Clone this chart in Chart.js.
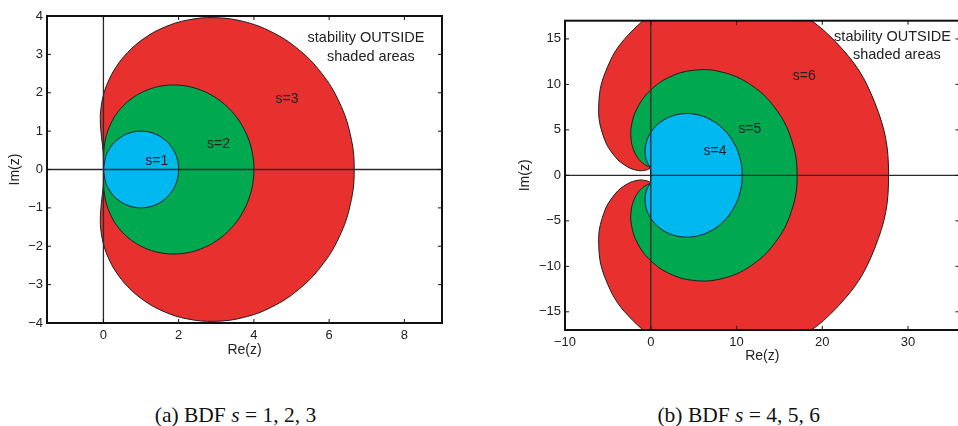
<!DOCTYPE html>
<html>
<head>
<meta charset="utf-8">
<script src="https://cdn.jsdelivr.net/npm/chart.js@4.4.1/dist/chart.umd.min.js"></script>
<style>
  html, body { margin: 0; padding: 0; background: #fff; }
  body { width: 958px; height: 426px; overflow: hidden; position: relative; }
  canvas { position: absolute; top: 0; }
  .cap { position: absolute; font-family: "Liberation Serif", "Times New Roman", serif; font-size: 21.5px; line-height: 25px; color: #111; text-align: center; width: 300px; white-space: nowrap; }
</style>
</head>
<body>
<canvas id="ca" width="479" height="380" style="left:0px"></canvas>
<canvas id="cb" width="521" height="380" style="left:479px"></canvas>
<div class="cap" style="left:85.5px; top:403px">(a) BDF <i>s</i> = 1, 2, 3</div>
<div class="cap" style="left:588.8px; top:403px">(b) BDF <i>s</i> = 4, 5, 6</div>
<script>
// ---- Data: boundary loci of the BDF stability regions ----
const s1Re = [0, 0.0603, 0.1340, 0.2929, 0.5, 0.6173, 0.7412, 0.8695, 1, 1.1305, 1.2588, 1.3827, 1.5, 1.6088, 1.7071, 1.7934, 1.8660, 1.9239, 1.9659, 1.9914, 2, 1.9914, 1.9659, 1.9239, 1.8660, 1.7934, 1.7071, 1.6088, 1.5, 1.3827, 1.2588, 1.1305, 1, 0.8695, 0.7412, 0.6173, 0.5, 0.2929, 0.1340, 0.0603, 0];
const s1Im = [0, 0.3420, 0.5, 0.7071, 0.8660, 0.9239, 0.9659, 0.9914, 1, 0.9914, 0.9659, 0.9239, 0.8660, 0.7934, 0.7071, 0.6088, 0.5, 0.3827, 0.2588, 0.1305, 0, -0.1305, -0.2588, -0.3827, -0.5, -0.6088, -0.7071, -0.7934, -0.8660, -0.9239, -0.9659, -0.9914, -1, -0.9914, -0.9659, -0.9239, -0.8660, -0.7071, -0.5, -0.3420, 0];

const s2Re = [0, 0.0036, 0.0179, 0.0858, 0.25, 0.3811, 0.5494, 0.7560, 1, 1.2781, 1.5846, 1.9118, 2.25, 2.5881, 2.9142, 3.2161, 3.4821, 3.7013, 3.8649, 3.9659, 4, 3.9659, 3.8649, 3.7013, 3.4821, 3.2161, 2.9142, 2.5881, 2.25, 1.9118, 1.5846, 1.2781, 1, 0.7560, 0.5494, 0.3811, 0.25, 0.0858, 0.0179, 0.0036, 0];
const s2Im = [0, 0.3626, 0.5670, 0.9142, 1.2990, 1.4942, 1.6819, 1.8535, 2, 2.1123, 2.1819, 2.2013, 2.1651, 2.0697, 1.9142, 1.7005, 1.4330, 1.1189, 0.7676, 0.3905, 0, -0.3905, -0.7676, -1.1189, -1.4330, -1.7005, -1.9142, -2.0697, -2.1651, -2.2013, -2.1819, -2.1123, -2, -1.8535, -1.6819, -1.4942, -1.2990, -0.9142, -0.5670, -0.3626, 0];

const s3Re = [0, -0.0034, -0.0148, -0.0523, -0.0833, -0.0674, -0.0065, 0.1204, 0.3333, 0.6485, 1.0751, 1.6128, 2.25, 2.9634, 3.7189, 4.4741, 5.1814, 5.7932, 6.2659, 6.5645, 6.6667, 6.5645, 6.2659, 5.7932, 5.1814, 4.4741, 3.7189, 2.9634, 2.25, 1.6128, 1.0751, 0.6485, 0.3333, 0.1204, -0.0065, -0.0674, -0.0833, -0.0523, -0.0148, -0.0034, 0];
const s3Im = [0, 0.3506, 0.5343, 0.8570, 1.2990, 1.5834, 1.9121, 2.2782, 2.6667, 3.0546, 3.4121, 3.7047, 3.8971, 3.9565, 3.8570, 3.5831, 3.1324, 2.5167, 1.7622, 0.9074, 0, -0.9074, -1.7622, -2.5167, -3.1324, -3.5831, -3.8570, -3.9565, -3.8971, -3.7047, -3.4121, -3.0546, -2.6667, -2.2782, -1.9121, -1.5834, -1.2990, -0.8570, -0.5343, -0.3506, 0];

const s4Re = [0, -0.0006, -0.0058, -0.0523, -0.2083, -0.3369, -0.4822, -0.6098, -0.6667, -0.5860, -0.2973, 0.2609, 1.125, 2.2936, 3.7189, 5.3065, 6.9224, 8.4104, 9.6129, 10.3953, 10.6667, 10.3953, 9.6129, 8.4104, 6.9224, 5.3065, 3.7189, 2.2936, 1.125, 0.2609, -0.2973, -0.5860, -0.6667, -0.6098, -0.4822, -0.3369, -0.2083, -0.0523, -0.0058, -0.0006, 0];
const s4Im = [0, 0.3482, 0.5187, 0.7712, 1.0825, 1.3140, 1.6374, 2.0825, 2.6667, 3.3854, 4.2044, 5.0566, 5.8457, 6.4565, 6.7712, 6.6896, 6.1479, 5.1339, 3.6946, 1.9338, 0, -1.9338, -3.6946, -5.1339, -6.1479, -6.6896, -6.7712, -6.4565, -5.8457, -5.0566, -4.2044, -3.3854, -2.6667, -2.0825, -1.6374, -1.3140, -1.0825, -0.7712, -0.5187, -0.3482, 0];

const s5Re = [0, 0.0002, 0.0014, -0.0038, -0.1083, -0.2708, -0.5520, -0.9625, -1.4667, -1.9649, -2.2915, -2.2336, -1.575, -0.1552, 2.0704, 4.9878, 8.3153, 11.6373, 14.4769, 16.3910, 17.0667, 16.3910, 14.4769, 11.6373, 8.3153, 4.9878, 2.0704, -0.1552, -1.575, -2.2336, -2.2915, -1.9649, -1.4667, -0.9625, -0.5520, -0.2708, -0.1083, -0.0038, 0.0014, 0.0002, 0];
const s5Im = [0, 0.3489, 0.5207, 0.7511, 0.9093, 0.9817, 1.1069, 1.3672, 1.8667, 2.7054, 3.9418, 5.5528, 7.4045, 9.2488, 10.7511, 11.5519, 11.3460, 9.9634, 7.4268, 3.9691, 0, -3.9691, -7.4268, -9.9634, -11.3460, -11.5519, -10.7511, -9.2488, -7.4045, -5.5528, -3.9418, -2.7054, -1.8667, -1.3672, -1.1069, -0.9817, -0.9093, -0.7511, -0.5207, -0.3489, 0];

const s6Re = [0, 0, 0.0014, 0.0199, 0.0583, 0.0190, -0.1682, -0.6271, -1.4667, -2.7022, -4.1722, -5.4899, -6.075, -5.2841, -2.6200, 2.0449, 8.3153, 15.2707, 21.6404, 26.1198, 27.7333, 26.1198, 21.6404, 15.2707, 8.3153, 2.0449, -2.6200, -5.2841, -6.075, -5.4899, -4.1722, -2.7022, -1.4667, -0.6271, -0.1682, 0.0190, 0.0583, 0.0199, 0.0014, 0, 0];
const s6Im = [0, 0.3491, 0.5239, 0.7748, 0.9093, 0.8617, 0.7230, 0.5575, 0.5333, 0.9255, 2.0612, 4.2040, 7.4045, 11.3732, 15.4416, 18.6567, 20.0094, 18.7352, 14.5903, 7.9989, 0, -7.9989, -14.5903, -18.7352, -20.0094, -18.6567, -15.4416, -11.3732, -7.4045, -4.2040, -2.0612, -0.9255, -0.5333, -0.5575, -0.7230, -0.8617, -0.9093, -0.7748, -0.5239, -0.3491, 0];

// Axis limits and tick values
const xLimA = [-1.5, 9], yLimA = [-4, 4];
const xLimB = [-10, 36], yLimB = [-17, 17];
const xTicksA = [0, 2, 4, 6, 8];
const yTicksA = [-4, -3, -2, -1, 0, 1, 2, 3, 4];
const xTicksB = [-10, 0, 10, 20, 30];
const yTicksB = [-15, -10, -5, 0, 5, 10, 15];

// Text annotations (data coordinates)
const notesA = [
  { text: 'stability OUTSIDE', x: 6.98, y: 3.42, big: true },
  { text: 'shaded areas', x: 7.11, y: 2.92, big: true },
  { text: 's=3', x: 4.88, y: 1.83 },
  { text: 's=2', x: 3.06, y: 0.66 },
  { text: 's=1', x: 1.42, y: 0.23 }
];
const notesB = [
  { text: 'stability OUTSIDE', x: 28.19, y: 15.18, big: true },
  { text: 'shaded areas', x: 28.7, y: 13.19, big: true },
  { text: 's=6', x: 17.89, y: 10.88 },
  { text: 's=5', x: 11.56, y: 5.09 },
  { text: 's=4', x: 7.49, y: 2.62 }
];

// ---- Styling / construction ----
const RED = '#E8302F', GREEN = '#00A850', BLUE = '#00B8F0';
const SANS = '"Liberation Sans", Arial, Helvetica, sans-serif';
const fmt = v => (v < 0 ? '\u2212' + Math.abs(v) : String(v));
const pts = (re, im) => re.map((x, i) => ({ x, y: im[i] }));

function region(re, im, color, order) {
  return {
    data: pts(re, im), borderColor: '#1e1e1e', borderWidth: 1,
    backgroundColor: color, fill: 'shape', tension: 0.4, capBezierPoints: false,
    pointRadius: 0, order: order
  };
}
function axisLine(p0, p1) {
  return { data: [p0, p1], borderColor: '#2b2b2b', borderWidth: 1.3, fill: false,
           tension: 0, pointRadius: 0, order: 0 };
}

const framePlugin = {
  id: 'frame',
  afterDraw(chart, args, opts) {
    const { ctx, chartArea: a } = chart;
    const xs = chart.scales.x, ys = chart.scales.y;
    ctx.save();
    ctx.strokeStyle = '#111';
    ctx.lineWidth = 1;
    ctx.beginPath();
    xs.ticks.forEach(t => {
      const px = xs.getPixelForValue(t.value);
      ctx.moveTo(px, a.bottom); ctx.lineTo(px, a.bottom - 4);
      ctx.moveTo(px, a.top); ctx.lineTo(px, a.top + 4);
    });
    ys.ticks.forEach(t => {
      const py = ys.getPixelForValue(t.value);
      ctx.moveTo(a.left, py); ctx.lineTo(a.left + 4, py);
      ctx.moveTo(a.right, py); ctx.lineTo(a.right - 4, py);
    });
    ctx.stroke();
    ctx.lineWidth = 2;
    ctx.strokeRect(a.left, a.top, a.right - a.left, a.bottom - a.top);
    ctx.fillStyle = '#222';
    ctx.textAlign = 'center';
    ctx.textBaseline = 'middle';
    (opts.notes || []).forEach(n => {
      ctx.font = (n.big ? '14.5px ' : '14px ') + SANS;
      ctx.fillText(n.text, xs.getPixelForValue(n.x), ys.getPixelForValue(n.y));
    });
    ctx.restore();
  }
};

function makeChart(id, cfg) {
  return new Chart(document.getElementById(id), {
    type: 'line',
    data: { datasets: cfg.datasets },
    options: {
      responsive: false, animation: false,
      layout: { padding: cfg.padding },
      plugins: { legend: { display: false }, tooltip: { enabled: false }, frame: { notes: cfg.notes } },
      scales: {
        x: {
          type: 'linear', min: cfg.xLim[0], max: cfg.xLim[1],
          afterBuildTicks: s => { s.ticks = cfg.xTicks.map(v => ({ value: v })); },
          afterFit: s => { s.height = cfg.xH; },
          grid: { display: false, drawTicks: false }, border: { display: false },
          ticks: { padding: 4.5, color: '#222', font: { family: SANS, size: 13 }, callback: v => fmt(v), maxRotation: 0, autoSkip: false },
          title: { display: true, text: 'Re(z)', color: '#222', font: { family: SANS, size: 14 }, padding: 0 }
        },
        y: {
          type: 'linear', min: cfg.yLim[0], max: cfg.yLim[1],
          afterBuildTicks: s => { s.ticks = cfg.yTicks.map(v => ({ value: v })); },
          afterFit: s => { s.width = cfg.yW; },
          grid: { display: false, drawTicks: false }, border: { display: false },
          ticks: { padding: 4, color: '#222', font: { family: SANS, size: 13 }, callback: v => fmt(v), autoSkip: false },
          title: { display: true, text: 'Im(z)', color: '#222', font: { family: SANS, size: 14 }, padding: { top: cfg.yTitlePad, bottom: 0 } }
        }
      }
    },
    plugins: [framePlugin]
  });
}

makeChart('ca', {
  datasets: [
    region(s3Re, s3Im, RED, 3),
    region(s2Re, s2Im, GREEN, 2),
    region(s1Re, s1Im, BLUE, 1),
    axisLine({ x: xLimA[0], y: 0 }, { x: xLimA[1], y: 0 }),
    axisLine({ x: 0, y: yLimA[0] }, { x: 0, y: yLimA[1] })
  ],
  xLim: xLimA, yLim: yLimA, xTicks: xTicksA, yTicks: yTicksA,
  padding: { left: 0, top: 16, right: 37, bottom: 21.6 },
  xH: 35.4, yW: 47, yTitlePad: 6.6, notes: notesA
});

makeChart('cb', {
  datasets: [
    region(s6Re, s6Im, RED, 3),
    region(s5Re, s5Im, GREEN, 2),
    region(s4Re, s4Im, BLUE, 1),
    axisLine({ x: xLimB[0], y: 0 }, { x: xLimB[1], y: 0 }),
    axisLine({ x: 0, y: yLimB[0] }, { x: 0, y: yLimB[1] })
  ],
  xLim: xLimB, yLim: yLimB, xTicks: xTicksB, yTicks: yTicksB,
  padding: { left: 0, top: 20.7, right: 40.5, bottom: 15.9 },
  xH: 34.1, yW: 86, yTitlePad: 37.6, notes: notesB
});
</script>
</body>
</html>
